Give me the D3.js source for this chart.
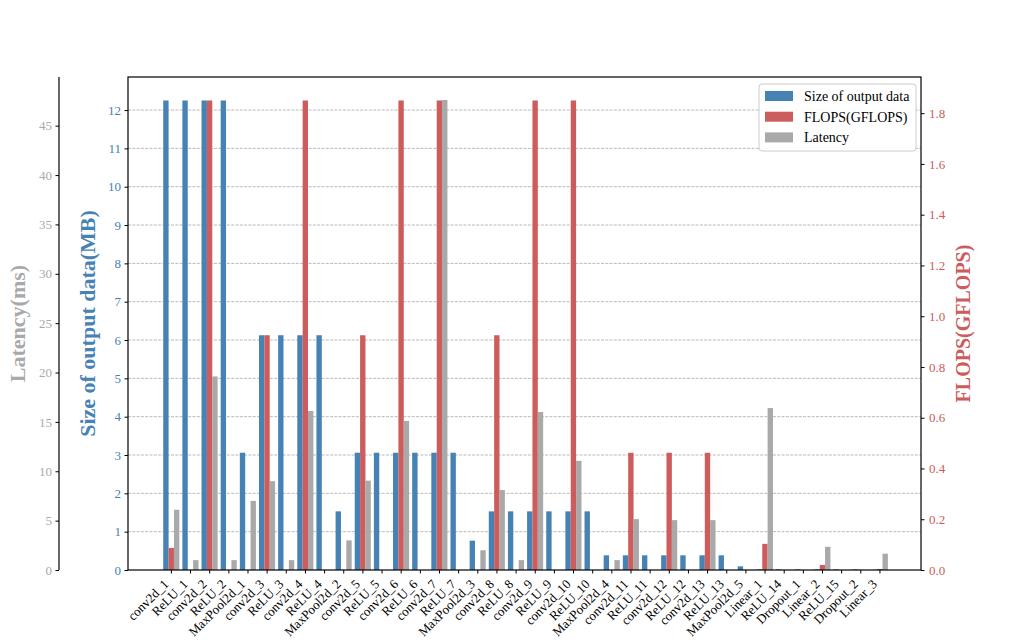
<!DOCTYPE html>
<html>
<head>
<meta charset="utf-8">
<script src="https://cdn.jsdelivr.net/npm/d3@7"></script>
<style>
  html, body { margin: 0; padding: 0; background: #ffffff; }
  svg { display: block; }
  text { font-family: "Liberation Serif", "Times New Roman", serif; }
</style>
</head>
<body>
<svg id="chart" width="1024" height="640"></svg>
<script>
// ---- data ----
const categories = ["conv2d_1","ReLU_1","conv2d_2","ReLU_2","MaxPool2d_1","conv2d_3","ReLU_3","conv2d_4","ReLU_4","MaxPool2d_2",
  "conv2d_5","ReLU_5","conv2d_6","ReLU_6","conv2d_7","ReLU_7","MaxPool2d_3","conv2d_8","ReLU_8","conv2d_9",
  "ReLU_9","conv2d_10","ReLU_10","MaxPool2d_4","conv2d_11","ReLU_11","conv2d_12","ReLU_12","conv2d_13","ReLU_13",
  "MaxPool2d_5","Linear_1","ReLU_14","Dropout_1","Linear_2","ReLU_15","Dropout_2","Linear_3"];
const sizeMB = [12.25,12.25,12.25,12.25,3.06,6.125,6.125,6.125,6.125,1.53,
  3.06,3.06,3.06,3.06,3.06,3.06,0.766,1.53,1.53,1.53,
  1.53,1.53,1.53,0.383,0.383,0.383,0.383,0.383,0.383,0.383,
  0.096,0.0156,0.0156,0.0156,0.0156,0.0156,0.0156,0.0038];
const flops = [0.087,0,1.85,0,0,0.925,0,1.85,0,0,
  0.925,0,1.85,0,1.85,0,0,0.925,0,1.85,
  0,1.85,0,0,0.462,0,0.462,0,0.462,0,
  0,0.103,0,0,0.02,0,0,0.0041];
const latency = [6.1,1.0,19.6,1.0,7.0,9.0,1.0,16.1,0,3.0,
  9.05,0,15.1,0,47.6,0,2.0,8.1,1.0,16.0,
  0,11.05,0,1.0,5.15,0,5.05,0,5.05,0,
  0,16.4,0,0,2.35,0,0,1.65];
const sizeTicks = [0,1,2,3,4,5,6,7,8,9,10,11,12];
const flopsTicks = [0,0.2,0.4,0.6,0.8,1.0,1.2,1.4,1.6,1.8];
const latencyTicks = [0,5,10,15,20,25,30,35,40,45];
const seriesNames = ["Size of output data","FLOPS(GFLOPS)","Latency"];

// ---- layout ----
const L = 128, R = 921, T = 77, B = 570, LAT_X = 59;
const BLUE = "#4682b4", RED = "#cd5c5c", GRAY = "#a9a9a9";
const svg = d3.select("#chart");

const x = d3.scaleLinear().domain([-2.24, 39.17]).range([L, R]);
const yS = d3.scaleLinear().domain([0, 12.8625]).range([B, T]);
const yF = d3.scaleLinear().domain([0, 1.9425]).range([B, T]);
const yL = d3.scaleLinear().domain([0, 49.93]).range([B, T]);
const bw = 0.28;
const unit = x(1) - x(0);

// grid
svg.append("g").selectAll("line").data(sizeTicks.filter(d => d > 0)).join("line")
  .attr("x1", L).attr("x2", R)
  .attr("y1", d => yS(d)).attr("y2", d => yS(d))
  .attr("stroke", "#a8a8a8").attr("stroke-width", 0.8)
  .attr("stroke-dasharray", "3,1.3");

function bars(vals, yScale, off, color) {
  svg.append("g").selectAll("rect").data(vals).join("rect")
    .attr("x", (d, i) => x(i + off - bw / 2))
    .attr("width", bw * unit)
    .attr("y", d => yScale(d))
    .attr("height", d => B - yScale(d))
    .attr("fill", color);
}
bars(sizeMB, yS, -0.26, BLUE);
bars(flops, yF, 0.02, RED);
bars(latency, yL, 0.30, GRAY);

// axes
const font = "Liberation Serif, Times New Roman, serif";
const axS = svg.append("g").attr("transform", `translate(${L},0)`)
  .call(d3.axisLeft(yS).tickValues(sizeTicks).tickSize(3.5).tickPadding(3.5).tickFormat(d3.format("d")));
axS.selectAll("text").attr("fill", BLUE).style("font-size", "13px").style("font-family", font);

const axF = svg.append("g").attr("transform", `translate(${R},0)`)
  .call(d3.axisRight(yF).tickValues(flopsTicks).tickSize(3.5).tickPadding(4.5).tickFormat(d3.format(".1f")));
axF.selectAll("text").attr("fill", RED).style("font-size", "13px").style("font-family", font);

const axL = svg.append("g").attr("transform", `translate(${LAT_X},0)`)
  .call(d3.axisLeft(yL).tickValues(latencyTicks).tickSize(3.5).tickPadding(3.5).tickFormat(d3.format("d")));
axL.selectAll("text").attr("fill", GRAY).style("font-size", "13px").style("font-family", font);

const axX = svg.append("g").attr("transform", `translate(0,${B})`)
  .call(d3.axisBottom(x).tickValues(d3.range(categories.length)).tickSize(3.5).tickFormat(i => categories[i]));
axX.selectAll("text")
  .attr("text-anchor", "end")
  .attr("transform", "translate(-2,15) rotate(-45)")
  .attr("x", 0).attr("y", 0).attr("dy", "0")
  .attr("fill", "#000").style("font-size", "13px").style("font-family", font);

[axS, axF, axL, axX].forEach(a => {
  a.selectAll(".domain").remove();
  a.selectAll(".tick line").attr("stroke", "#000").attr("stroke-width", 1);
});

// spines
svg.append("rect").attr("x", L).attr("y", T).attr("width", R - L).attr("height", B - T)
  .attr("fill", "none").attr("stroke", "#000").attr("stroke-width", 1.2);
svg.append("line").attr("x1", LAT_X).attr("x2", LAT_X).attr("y1", T).attr("y2", B)
  .attr("stroke", "#000").attr("stroke-width", 1.2);

// axis titles
const midY = (T + B) / 2;
svg.append("text").attr("transform", `translate(25,${midY}) rotate(-90)`)
  .attr("text-anchor", "middle").attr("fill", GRAY).style("font-weight", "bold").style("font-size", "22px")
  .text("Latency(ms)");
svg.append("text").attr("transform", `translate(95,${midY}) rotate(-90)`)
  .attr("text-anchor", "middle").attr("fill", BLUE).style("font-weight", "bold").style("font-size", "22px")
  .text("Size of output data(MB)");
svg.append("text").attr("transform", `translate(970,${midY}) rotate(-90)`)
  .attr("text-anchor", "middle").attr("fill", RED).style("font-weight", "bold").style("font-size", "20px")
  .text("FLOPS(GFLOPS)");

// legend
const lg = svg.append("g").attr("transform", "translate(759,84)");
lg.append("rect").attr("width", 157).attr("height", 67).attr("rx", 3)
  .attr("fill", "#fff").attr("fill-opacity", 0.9).attr("stroke", "#cccccc").attr("stroke-width", 1);
const colors = [BLUE, RED, GRAY];
seriesNames.forEach((n, i) => {
  lg.append("rect").attr("x", 6).attr("y", 7 + i * 20.7).attr("width", 28).attr("height", 10).attr("fill", colors[i]);
  lg.append("text").attr("x", 45).attr("y", 12 + i * 20.7).attr("dy", "0.35em")
    .attr("fill", "#000").style("font-size", "14px").text(n);
});
</script>
</body>
</html>
